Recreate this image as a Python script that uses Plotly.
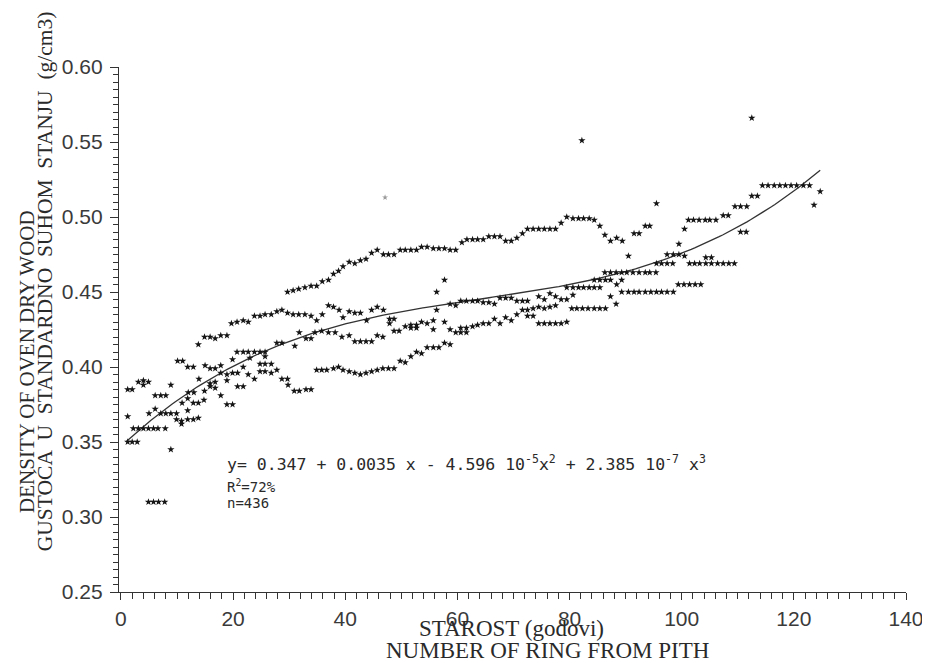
import plotly.graph_objects as go

# ---- data (ring number, density g/cm3) ----
band_top = [(29.7,0.450),(30.7,0.451),(31.7,0.452),(32.8,0.453),(33.9,0.454),(34.9,0.454),(35.9,0.457),(37.0,0.458),
            (37.9,0.462),(38.8,0.464),(39.6,0.467),(40.7,0.470),(41.7,0.469),(42.7,0.471),(43.7,0.472),(44.7,0.476),
            (45.7,0.478),(46.8,0.475),(47.7,0.475),(48.7,0.475),(49.8,0.478),(50.7,0.478),(51.7,0.478),(52.7,0.478),
            (53.6,0.480),(54.6,0.480),(55.7,0.479),(56.7,0.479),(57.7,0.479),(58.7,0.478),(59.7,0.478),(60.8,0.483),
            (61.7,0.485),(62.7,0.485),(63.6,0.485),(64.6,0.485),(65.6,0.487),(66.6,0.487),(67.6,0.487),(68.6,0.484),
            (69.6,0.484),(70.6,0.486),(71.6,0.489),(72.5,0.492),(73.5,0.492),(74.5,0.492),(75.5,0.492),(76.5,0.492),
            (77.5,0.492),(78.5,0.496),(79.5,0.500),(80.6,0.499),(81.6,0.499),(82.5,0.499),(83.5,0.499),(84.4,0.498),
            (85.4,0.494),(86.3,0.488),(87.3,0.484),(88.4,0.486),(89.4,0.484),(91.5,0.489),(92.4,0.489),(93.5,0.494),
            (94.3,0.494)]
band_top_late = [(95.5,0.509),(99.5,0.482),(100.5,0.492),(101.2,0.498),(102.1,0.498),(103.1,0.498),(104.2,0.498),
                 (105.0,0.498),(106.1,0.498),(107.4,0.501),(108.3,0.501),(109.5,0.507),(110.5,0.507),(111.6,0.507),
                 (112.5,0.514),(113.5,0.514),(114.4,0.521),(115.4,0.521),(116.5,0.521),(117.5,0.521),(118.5,0.521),
                 (119.5,0.521),(120.5,0.521),(121.7,0.521),(122.8,0.521),(123.6,0.508),(124.7,0.517)]
band_upper = [(1.2,0.385),(2.0,0.385),(3.1,0.390),(4.0,0.391),(4.0,0.388),(4.9,0.390),(6.1,0.381),(7.1,0.381),
              (8.0,0.381),(8.9,0.388),(10.1,0.404),(11.0,0.404),(11.9,0.400),(12.9,0.400),(13.8,0.415),(14.9,0.420),
              (15.9,0.420),(16.8,0.419),(17.8,0.421),(18.9,0.421),(19.7,0.429),(20.7,0.430),(21.8,0.431),(22.7,0.430),
              (23.8,0.434),(24.8,0.434),(25.7,0.435),(26.8,0.435),(27.8,0.437),(28.7,0.438),(29.7,0.436),(30.7,0.435),
              (31.7,0.435),(32.8,0.435),(33.9,0.434),(34.9,0.431),(35.9,0.435),(37.0,0.441),(37.9,0.440),(38.9,0.438),
              (39.6,0.433),(40.7,0.437),(41.7,0.436),(42.7,0.436),(43.8,0.431),(44.7,0.438),(45.7,0.440),(46.8,0.438),
              (47.9,0.432),(47.9,0.429),(48.7,0.432)]
band_curve = [(56.3,0.438),(56.3,0.450),(57.7,0.458),(58.7,0.442),(59.7,0.441),(60.6,0.444),(61.6,0.444),(62.7,0.444),
              (63.6,0.444),(64.6,0.443),(65.6,0.443),(66.6,0.442),(67.6,0.446),(68.6,0.446),(69.6,0.446),(70.6,0.444),
              (71.6,0.444),(72.5,0.444),(74.5,0.447),(75.5,0.445),(76.5,0.449),(77.5,0.447),(79.5,0.453),(80.6,0.453),
              (81.6,0.453),(82.5,0.453),(83.5,0.453),(84.4,0.453),(85.4,0.453),(84.4,0.458),(85.4,0.458),(86.4,0.458),
              (87.3,0.458),(86.3,0.463),(87.3,0.463),(88.3,0.463),(89.3,0.463),(90.2,0.463),(91.3,0.463),(92.4,0.463),
              (93.5,0.463),(94.3,0.463),(95.4,0.463),(90.5,0.474),(95.5,0.469),(96.4,0.469),(97.4,0.469),(98.4,0.469),
              (97.4,0.475),(98.5,0.475),(99.5,0.475),(100.5,0.474),(101.4,0.469),(102.3,0.469),(103.2,0.469),
              (104.3,0.469),(105.3,0.469),(106.4,0.469),(107.4,0.469),(108.4,0.469),(109.4,0.469),(104.3,0.473),
              (105.3,0.473),(110.5,0.490),(111.5,0.490)]
band_lower_left = [(1.2,0.367),(1.2,0.350),(2.0,0.350),(2.9,0.350),(2.2,0.359),(3.1,0.359),(4.0,0.359),(4.9,0.359),
                   (5.8,0.359),(6.6,0.359),(7.9,0.359),(5.0,0.369),(6.1,0.372),(7.1,0.369),(8.0,0.369),(8.9,0.369),
                   (9.9,0.369),(8.9,0.345),(9.9,0.365),(10.8,0.364),(10.8,0.362),(11.9,0.365),(12.9,0.365),(13.8,0.366),
                   (10.9,0.376),(11.9,0.379),(12.9,0.376),(13.8,0.376),(14.8,0.378),(11.9,0.371),(12.0,0.383),(13.0,0.383),
                   (13.9,0.392),(14.9,0.384),(15.9,0.389),(15.9,0.387),(16.8,0.390),(15.0,0.401),(15.9,0.399),(16.8,0.399),
                   (17.8,0.401),(16.8,0.386),(17.8,0.381),(17.8,0.396),(18.9,0.395),(19.9,0.396),(18.9,0.375),(19.9,0.375),
                   (19.9,0.405),(18.9,0.391),(20.7,0.410),(21.8,0.410),(22.7,0.410),(23.8,0.410),(24.8,0.410),(25.7,0.410),
                   (20.8,0.396),(21.8,0.400),(20.8,0.387),(21.8,0.387),(22.7,0.395),(23.8,0.392),(23.0,0.406),(24.8,0.402),
                   (25.7,0.402),(26.8,0.402),(24.8,0.397),(25.7,0.397),(26.8,0.396),(25.7,0.407),(27.8,0.398),(28.7,0.392),
                   (29.7,0.392),(27.8,0.416),(28.7,0.416),(29.8,0.388),(30.9,0.384),(31.8,0.384),(33.0,0.385),(33.9,0.385),
                   (31.0,0.414),(31.8,0.423),(33.0,0.419),(33.9,0.419),(34.6,0.423),(35.8,0.424),(37.0,0.423),(38.2,0.423),
                   (39.4,0.420)]
band_low_start = [(4.9,0.310),(5.8,0.310),(6.7,0.310),(7.8,0.310)]
band_lower_mid = [(40.7,0.421),(41.7,0.417),(42.7,0.417),(43.7,0.417),(44.7,0.417),(45.7,0.421),(46.7,0.420),
                  (48.7,0.424),(49.6,0.424),(50.7,0.427),(51.7,0.428),(51.7,0.426),(52.7,0.428),(52.7,0.426),(53.6,0.430),
                  (54.6,0.429),(55.7,0.431),(55.7,0.425),(57.7,0.430),(58.7,0.425),(59.7,0.423),(60.6,0.426),(60.6,0.423),
                  (61.6,0.426),(61.6,0.423),(62.7,0.427),(63.6,0.428),(64.6,0.429),(65.6,0.429),(66.6,0.432),(67.6,0.429),
                  (68.6,0.433),(69.6,0.431),(70.6,0.435),(71.6,0.438),(72.5,0.438),(73.5,0.439),(74.5,0.440),(75.5,0.439),
                  (76.5,0.440),(77.5,0.441),(78.5,0.445),(79.5,0.445),(72.5,0.434),(73.5,0.434),(74.5,0.429),(75.5,0.429),
                  (76.5,0.429),(77.5,0.429),(78.5,0.429),(79.5,0.430),(80.4,0.439),(81.3,0.439),(82.3,0.439),(83.3,0.439),
                  (84.4,0.439),(85.4,0.439),(86.4,0.439),(80.6,0.448),(87.3,0.447),(88.3,0.442),(88.4,0.455),(89.3,0.458),
                  (89.3,0.450),(90.5,0.450),(91.5,0.450),(92.4,0.450),(93.5,0.450),(94.5,0.450),(95.5,0.450),(96.4,0.450),
                  (97.4,0.450),(98.5,0.450),(99.4,0.455),(100.4,0.455),(101.4,0.455),(102.4,0.455),(103.4,0.455)]
band_bottom = [(34.9,0.398),(35.8,0.398),(36.7,0.398),(37.9,0.399),(38.8,0.400),(39.6,0.398),(40.7,0.397),(41.7,0.396),
               (42.7,0.395),(43.7,0.396),(44.7,0.397),(45.7,0.398),(46.7,0.399),(47.7,0.399),(48.7,0.399),(49.8,0.404),
               (50.7,0.403),(51.7,0.407),(52.7,0.410),(53.6,0.409),(54.6,0.413),(55.7,0.413),(56.7,0.413),(57.7,0.416),
               (58.7,0.415)]
outliers = [(82.2,0.551),(112.5,0.566)]
faint_points = [(47.1,0.513)]

# regression printed on the chart: y = b0 + b1 x + b2 x^2 + b3 x^3
coef = [0.347, 0.0035, -4.596e-5, 2.385e-7]
fit_start, fit_end = 1.0, 124.7

x_ticks = [0, 20, 40, 60, 80, 100, 120, 140]
y_ticks = [0.25, 0.30, 0.35, 0.40, 0.45, 0.50, 0.55, 0.60]

# ---- figure ----
all_pts = (band_top + band_top_late + band_upper + band_curve + band_lower_left + band_low_start
           + band_lower_mid + band_bottom + outliers)
px = [p[0] for p in all_pts]
py = [p[1] for p in all_pts]

n_fit = 200
fx = [fit_start + (fit_end - fit_start) * i / (n_fit - 1) for i in range(n_fit)]
fy = [coef[0] + coef[1] * x + coef[2] * x ** 2 + coef[3] * x ** 3 for x in fx]

fig = go.Figure()
fig.add_trace(go.Scatter(x=fx, y=fy, mode="lines", line=dict(color="#333333", width=1.3),
                         hoverinfo="skip", showlegend=False))
fig.add_trace(go.Scatter(x=px, y=py, mode="markers",
                         marker=dict(symbol="star", size=5.5, color="#151515", line=dict(width=0)),
                         showlegend=False))
fig.add_trace(go.Scatter(x=[p[0] for p in faint_points], y=[p[1] for p in faint_points], mode="markers",
                         marker=dict(symbol="star", size=4.5, color="#9a9a9a", line=dict(width=0)),
                         showlegend=False))

tick_font = dict(family="Liberation Sans, Arial, sans-serif", size=21, color="#3a3a3a")
ytitle1_font = dict(family="Liberation Serif, Times New Roman, serif", size=21, color="#2a2a2a")
ytitle2_font = dict(family="Liberation Serif, Times New Roman, serif", size=21.5, color="#2a2a2a")
xtitle_font = dict(family="Liberation Serif, Times New Roman, serif", size=23, color="#2a2a2a")
eq_font = dict(family="DejaVu Sans Mono, monospace", size=16.5, color="#2a2a2a")
small_font = dict(family="DejaVu Sans Mono, monospace", size=14, color="#2a2a2a")

# the page body adds an 8px offset, so the figure is sized and placed to compensate
fig.update_layout(
    width=922, height=655,
    margin=dict(l=111, r=24, t=59, b=71),
    paper_bgcolor="white", plot_bgcolor="white",
    showlegend=False,
    xaxis=dict(range=[-0.35, 140], tickvals=x_ticks, ticktext=[str(v) for v in x_ticks],
               showgrid=False, zeroline=False, showline=True, linecolor="#333333", linewidth=1.2,
               ticks="outside", ticklen=7, tickwidth=1.2, tickcolor="#333333",
               minor=dict(dtick=2, tick0=0, ticks="outside", ticklen=6, tickwidth=1, tickcolor="#333333"),
               tickfont=tick_font, ticklabelstandoff=1, automargin=False),
    yaxis=dict(range=[0.25, 0.60], tickvals=y_ticks, ticktext=["%.2f" % v for v in y_ticks],
               showgrid=False, zeroline=False, showline=True, linecolor="#333333", linewidth=1.2,
               ticks="outside", ticklen=8, tickwidth=1.2, tickcolor="#333333",
               minor=dict(dtick=0.005, tick0=0.25, ticks="outside", ticklen=5, tickwidth=1, tickcolor="#333333"),
               tickfont=tick_font, ticklabelstandoff=3, automargin=False),
)

nb = "\u00a0"
ytitle2 = nb.join(["GUSTOĆA ", "U ", "STANDARDNO ", "SUHOM ", "STANJU ", "(g/cm3)"])
annos = [
    dict(text="DENSITY OF OVEN DRY WOOD", x=-0.117, y=0.44, textangle=-90, font=ytitle1_font),
    dict(text=ytitle2, x=-0.094, y=0.592, textangle=-90, font=ytitle2_font),
    dict(text="STAROST (godovi)", x=0.499, y=-0.069, textangle=0, font=xtitle_font),
    dict(text="NUMBER OF RING FROM PITH", x=0.545, y=-0.112, textangle=0, font=xtitle_font),
]
for a in annos:
    fig.add_annotation(xref="paper", yref="paper", showarrow=False,
                       xanchor="center", yanchor="middle", **a)

eq_lines = [
    ("y= 0.347 + 0.0035 x - 4.596 10<sup>-5</sup>x<sup>2</sup> + 2.385 10<sup>-7</sup> x<sup>3</sup>", 0.336, eq_font),
    ("R<sup>2</sup>=72%", 0.3205, small_font),
    ("n=436", 0.3095, small_font),
]
for txt, yy, fnt in eq_lines:
    fig.add_annotation(x=18.5, y=yy, xref="x", yref="y", text=txt, showarrow=False,
                       xanchor="left", yanchor="middle", font=fnt)

fig.write_html("out.html")
